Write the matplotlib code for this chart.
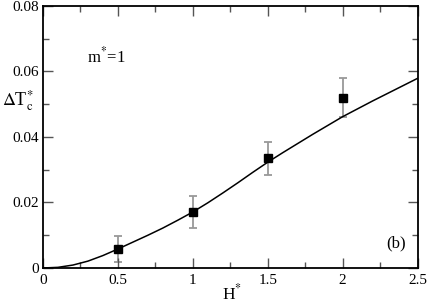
import matplotlib.pyplot as plt
from matplotlib.ticker import MultipleLocator

plt.rcParams['font.family'] = ['Liberation Serif', 'DejaVu Serif']
plt.rcParams['mathtext.fontset'] = 'stix'

# simulation points with error bars
h_sim = [0.5, 1.0, 1.5, 2.0]
dt_sim = [0.0058, 0.0171, 0.0335, 0.0520]
dt_err = [0.0040, 0.0050, 0.0050, 0.0060]

# theory curve
h_line = [0.0, 0.1, 0.2, 0.3, 0.4, 0.5, 0.6, 0.7, 0.8, 0.9, 1.0, 1.1, 1.2,
          1.3, 1.4, 1.5, 1.6, 1.7, 1.8, 1.9, 2.0, 2.1, 2.2, 2.3, 2.4, 2.5]
dt_line = [0.0, 0.0002, 0.0009, 0.0021, 0.0038, 0.0058, 0.0079, 0.0100,
           0.0122, 0.0146, 0.0171, 0.0199, 0.0229, 0.0260, 0.0292, 0.0323,
           0.0352, 0.0380, 0.0408, 0.0435, 0.0462, 0.0486, 0.0510, 0.0533,
           0.0556, 0.0579]

fig = plt.figure(figsize=(4.28, 3.06), dpi=100)
ax = fig.add_axes([0.1005, 0.1242, 0.875, 0.8562])

ax.plot(h_line, dt_line, color='black', lw=1.1, zorder=2)
ax.errorbar(h_sim, dt_sim, yerr=dt_err, fmt='none', ecolor='#999999',
            elinewidth=1.3, capsize=3, capthick=1.3, zorder=1)
ax.plot(h_sim, dt_sim, 's', color='black', ms=6.3, zorder=3)

ax.set_xlim(0, 2.5)
ax.set_ylim(0, 0.08)
ax.xaxis.set_minor_locator(MultipleLocator(0.25))
ax.yaxis.set_minor_locator(MultipleLocator(0.01))
ax.set_xticks([0, 0.5, 1, 1.5, 2, 2.5])
ax.set_xticklabels(['0', '0.5', '1', '1.5', '2', '2.5'])
ax.set_yticks([0, 0.02, 0.04, 0.06, 0.08])
ax.set_yticklabels(['0', '0.02', '0.04', '0.06', '0.08'])

ax.tick_params(which='both', direction='in', top=True, right=True,
               labelsize=11, color='#555555')
ax.tick_params(which='major', length=7, width=1)
ax.tick_params(which='minor', length=4, width=1)
ax.tick_params(axis='x', pad=4)
ax.tick_params(axis='y', pad=3)
for s in ax.spines.values():
    s.set_linewidth(1.3)

ax.text(0.293, 0.0629, r'm$^{*}$=1', fontsize=12, va='baseline')
ax.text(2.293, 0.0064, '(b)', fontsize=12, va='baseline')

fig.text(0.005, 0.654, r'$\Delta$T$^{*}_{\rm c}$', fontsize=13, va='baseline')
fig.text(0.519, 0.022, r'H$^{*}$', fontsize=12.5, va='baseline')

fig.savefig('out.png', dpi=100)
